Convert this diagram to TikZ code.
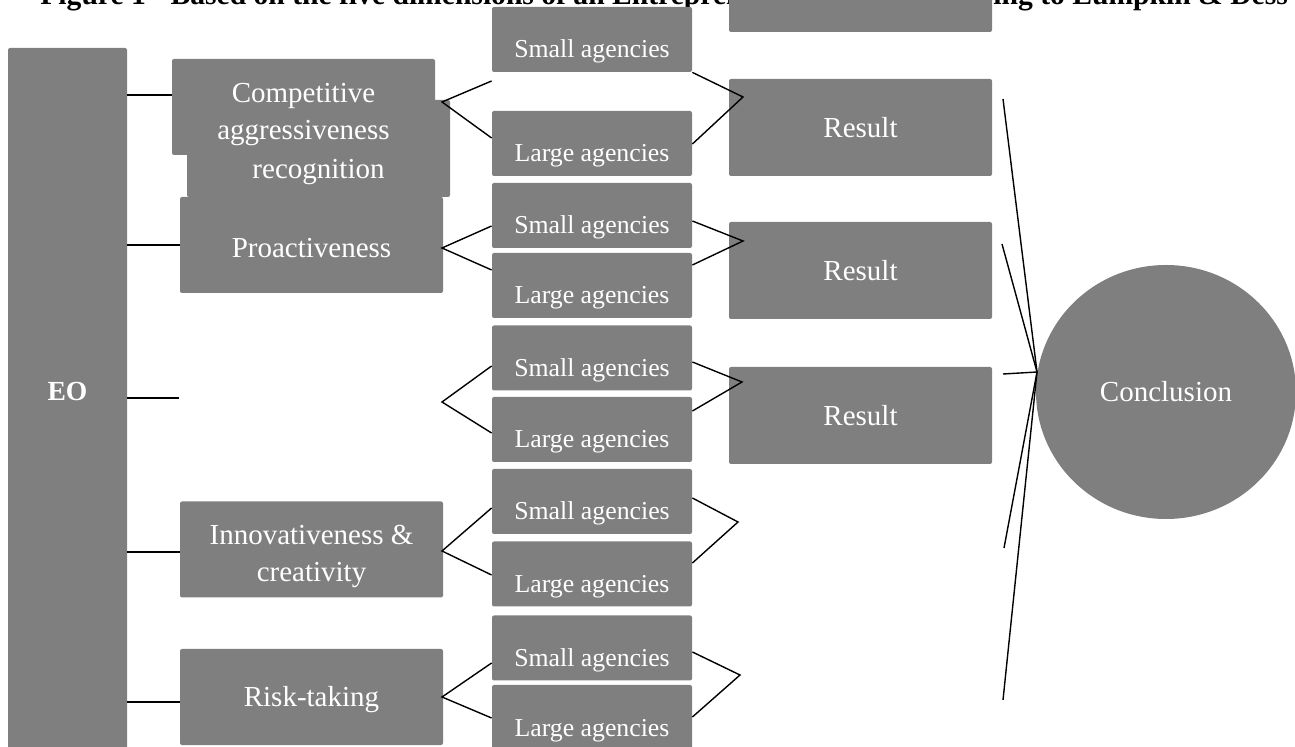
\documentclass[tikz,border=0pt]{standalone}
\usepackage{fontspec}
\setmainfont{Liberation Serif}
\usetikzlibrary{shapes.geometric}
\definecolor{boxgray}{HTML}{7F7F7F}

\begin{document}
\begin{tikzpicture}[
    x=0.5pt, y=-0.5pt,
    box/.style={rectangle, fill=boxgray, text=white, rounded corners=1pt, inner sep=0pt, align=center, font=\fontsize{14.5}{18.5}\selectfont},
    feature/.style={box, minimum width=131.5pt, minimum height=48pt},
    agency/.style={box, minimum width=100pt, text height=25.5pt, text depth=7pt, font=\fontsize{12.9}{15}\selectfont},
    result/.style={box, minimum width=131.5pt, minimum height=48.5pt},
    link/.style={draw=black, line width=0.7pt},
    caption/.style={inner sep=0pt, anchor=base west, font=\fontsize{14.8}{17}\selectfont\bfseries}
]
    \useasboundingbox (0,0) rectangle (1295,747);

    % Caption, cut off at the top
    \node[caption] (t1) at (40,5) {Figure 1 - Based on the five dimensions of an Entrepreneurial};
    \node[caption] (t2) at (993,5) {ing to Lumpkin \& Dess};

    % Define nodes for the EO column and its dimensions
    \node[box, minimum width=59.5pt, text height=176.5pt, text depth=179.5pt, font=\fontsize{13.8}{16}\selectfont\bfseries] (eo) at (67.5,404) {EO};
    \node[box, minimum width=131.5pt, text height=39.3pt, text depth=9.2pt] (f1b) at (318.5,148.5) {recognition};
    \node[feature] (f1) at (303.5,107) {\rule{0pt}{17pt}Competitive\\aggressiveness};
    \node[feature] (f2) at (311.5,245) {\rule{0pt}{13pt}Proactiveness};
    \node[feature] (f4) at (311.5,549.5) {\rule{0pt}{17pt}Innovativeness \&\\creativity};
    \node[feature] (f5) at (311.5,697) {\rule{0pt}{13pt}Risk-taking};
    \coordinate (f3) at (179,398);

    % Small and large agencies
    \node[agency] (s1) at (592,39.5) {Small agencies};
    \node[agency] (a1) at (592,143.5) {Large agencies};
    \node[agency] (s2) at (592,215.5) {Small agencies};
    \node[agency] (a2) at (592,285.5) {Large agencies};
    \node[agency] (s3) at (592,358) {Small agencies};
    \node[agency] (a3) at (592,429.5) {Large agencies};
    \node[agency] (s4) at (592,501.5) {Small agencies};
    \node[agency] (a4) at (592,574) {Large agencies};
    \node[agency] (s5) at (592,648) {Small agencies};
    \node[agency] (a5) at (592,717.5) {Large agencies};

    % Results and conclusion
    \node[result] (r0) at (860.5,-16.5) {};
    \node[result] (r1) at (860.5,127.5) {Result};
    \node[result] (r2) at (860.5,270.5) {Result};
    \node[result] (r3) at (860.5,415.5) {Result};
    \node[ellipse, fill=boxgray, text=white, inner sep=0pt, minimum width=130pt, minimum height=127pt, font=\fontsize{14.5}{17}\selectfont] (concl) at (1166,392) {Conclusion};

    % Branch points
    \coordinate (p1) at (442,102);
    \coordinate (p2) at (442,248);
    \coordinate (p3) at (442,402);
    \coordinate (p4) at (442,551);
    \coordinate (p5) at (442,697);
    \coordinate (q1) at (743,97);
    \coordinate (q2) at (743,241);
    \coordinate (q3) at (742,382);
    \coordinate (q4) at (738,522);
    \coordinate (q5) at (740,675);
    \coordinate (hub) at (1037,372);
    \coordinate (e1) at (1003,99);
    \coordinate (e2) at (1002,244);
    \coordinate (e3) at (1003,374);
    \coordinate (e4) at (1004,548);
    \coordinate (e5) at (1003,700);

    % EO to the dimensions
    \draw[link] (eo.east |- 0,95) -- (f1.west |- 0,95);
    \draw[link] (eo.east |- f2.west) -- (f2.west);
    \draw[link] (eo.east |- f3) -- (f3);
    \draw[link] (eo.east |- 0,552) -- (f4.west |- 0,552);
    \draw[link] (eo.east |- 0,702) -- (f5.west |- 0,702);

    % Dimensions to agencies
    \draw[link] (s1.west |- 0,81) -- (p1) -- (a1.west |- 0,138);
    \draw[link] (s2.west |- 0,226) -- (p2) -- (a2.west |- 0,270);
    \draw[link] (s3.west |- 0,366) -- (p3) -- (a3.west |- 0,433);
    \draw[link] (s4.west |- 0,508) -- (p4) -- (a4.west |- 0,575);
    \draw[link] (s5.west |- 0,663) -- (p5) -- (a5.west |- 0,718);

    % Agencies to results
    \draw[link] (s1.south east) -- (q1) -- (a1.east |- 0,144);
    \draw[link] (s2.east |- 0,221) -- (q2) -- (a2.east |- 0,265);
    \draw[link] (s3.east |- 0,362) -- (q3) -- (a3.east |- 0,411);
    \draw[link] (s4.east |- 0,498) -- (q4) -- (a4.east |- 0,563);
    \draw[link] (s5.east |- 0,652) -- (q5) -- (a5.east |- 0,717);

    % Results to conclusion
    \draw[link] (e1) -- (hub);
    \draw[link] (e2) -- (hub);
    \draw[link] (e3) -- (hub);
    \draw[link] (e4) -- (hub);
    \draw[link] (e5) -- (hub);

\end{tikzpicture}
\end{document}
